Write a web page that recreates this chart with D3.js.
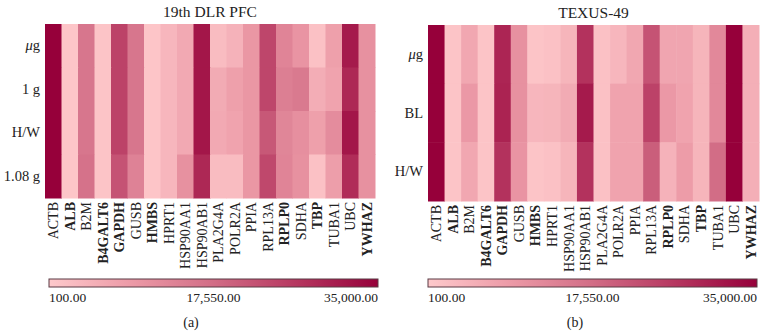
<!DOCTYPE html>
<html>
<head>
<meta charset="utf-8">
<script src="https://cdn.jsdelivr.net/npm/d3@7"></script>
<style>
  body { margin: 0; background: #fff; }
  svg { display: block; }
  text { font-family: "Liberation Serif", "DejaVu Serif", serif; fill: #222; }
</style>
</head>
<body>
<div id="chart"></div>
<script>
// genes on the x axis (bold ones as in the original figure)
const genes = ["ACTB", "ALB", "B2M", "B4GALT6", "GAPDH", "GUSB", "HMBS", "HPRT1", "HSP90AA1", "HSP90AB1",
  "PLA2G4A", "POLR2A", "PPIA", "RPL13A", "RPLP0", "SDHA", "TBP", "TUBA1", "UBC", "YWHAZ"];
const boldGenes = ["ALB", "B4GALT6", "GAPDH", "HMBS", "RPLP0", "TBP", "YWHAZ"];

// (a) 19th DLR PFC
const dlrRows = ["μg", "1 g", "H/W", "1.08 g"];
const dlrMicro = [35000, 800, 15800, 1100, 24500, 15800, 800, 3600, 6000, 31500, 2500, 4300, 9500, 23800, 13000, 9900, 1500, 7800, 30800, 10600];
const dlr1g    = [35000, 800, 15800, 1100, 24500, 15800, 800, 3600, 6000, 31500, 5700, 7800, 9500, 23800, 14100, 15100, 5300, 7100, 28700, 10600];
const dlrHW    = [35000, 800, 15800, 1100, 24500, 15800, 800, 3600, 6000, 31500, 6000, 7100, 9500, 21000, 12700, 10900, 7800, 11600, 31500, 10600];
const dlr108g  = [35000, 800, 16500, 1100, 21700, 13400, 800, 3600, 10600, 28700, 2500, 2500, 9500, 23500, 13000, 10600, 1500, 8100, 28000, 10600];

// (b) TEXUS-49
const texusRows = ["μg", "BL", "H/W"];
const texusMicro = [35000, 1100, 6400, 1100, 29100, 10600, 1100, 1500, 3900, 27000, 1500, 3600, 6400, 21700, 6700, 6700, 3900, 12300, 35000, 5000];
const texusBL    = [35000, 1100, 9200, 1100, 29400, 10600, 3600, 3900, 5700, 30800, 1500, 7100, 7100, 24500, 9200, 7100, 3900, 12300, 35000, 5000];
const texusHW    = [35000, 1100, 6400, 1100, 27000, 9900, 1100, 1500, 3900, 27000, 1500, 7100, 7100, 20000, 4300, 8500, 3900, 17550, 35000, 5000];

// color bar
const legendTicks = [100, 17550, 35000];

const width = 767, height = 336;

const svg = d3.select("#chart").append("svg")
  .attr("width", width)
  .attr("height", height);

const color = d3.scaleLinear()
  .domain([100, 8825, 17550, 26275, 35000])
  .range(["#fec9cb", "#ec9aa7", "#d26d86", "#b63760", "#96003a"])
  .clamp(true);

function toCells(rows, series) {
  const cells = [];
  rows.forEach((r, i) => {
    series[i].forEach((v, j) => cells.push({row: r, gene: genes[j], value: v}));
  });
  return cells;
}

function drawPanel(opts) {
  const x = d3.scaleBand().domain(genes).range([opts.x0, opts.x1]);
  const y = d3.scaleBand().domain(opts.rows).range([opts.y0, opts.y1]);

  const g = svg.append("g");

  g.selectAll("rect.cell")
    .data(toCells(opts.rows, opts.series))
    .join("rect")
    .attr("class", "cell")
    .attr("x", d => x(d.gene))
    .attr("y", d => y(d.row))
    .attr("width", x.bandwidth() + 0.5)
    .attr("height", y.bandwidth() + 0.5)
    .attr("fill", d => color(d.value));

  // title
  g.append("text")
    .attr("x", (opts.x0 + opts.x1) / 2)
    .attr("y", opts.y0 - 7)
    .attr("text-anchor", "middle")
    .style("font-size", "15.5px")
    .text(opts.title);

  // y axis
  const yAxis = g.append("g")
    .attr("transform", `translate(${opts.x0 - 5},0)`)
    .call(d3.axisLeft(y).tickSize(0).tickPadding(0));
  yAxis.select(".domain").remove();
  yAxis.selectAll("text")
    .style("font-size", "14.5px")
    .style("font-family", "Liberation Serif, serif")
    .attr("fill", "#222")
    .each(function(d) {
      if (d === "μg") {
        const t = d3.select(this).text("");
        t.append("tspan").style("font-style", "italic").text("μ");
        t.append("tspan").text("g");
      }
    });

  // x axis, rotated labels
  const xAxis = g.append("g")
    .attr("transform", `translate(0,${opts.y1})`)
    .call(d3.axisBottom(x).tickSize(0));
  xAxis.select(".domain").remove();
  xAxis.selectAll("text")
    .attr("transform", "rotate(-90)")
    .attr("x", -4)
    .attr("y", 0)
    .attr("dy", "0.35em")
    .style("text-anchor", "end")
    .style("font-size", "14px")
    .style("font-family", "Liberation Serif, serif")
    .style("font-weight", d => boldGenes.includes(d) ? "bold" : "normal")
    .attr("fill", "#222");

  // color bar
  const gradId = "grad" + opts.letter;
  const grad = svg.append("defs").append("linearGradient").attr("id", gradId);
  d3.range(0, 1.0001, 0.05).forEach(t => {
    grad.append("stop")
      .attr("offset", t)
      .attr("stop-color", color(100 + t * 34900));
  });
  const lx = d3.scaleLinear().domain([100, 35000]).range([opts.lx0, opts.lx1]);
  g.append("rect")
    .attr("x", lx(100))
    .attr("y", 279)
    .attr("width", lx(35000) - lx(100))
    .attr("height", 8)
    .attr("fill", `url(#${gradId})`)
    .attr("stroke", "#5b3a44")
    .attr("stroke-width", 1);

  g.selectAll("text.leg")
    .data(legendTicks)
    .join("text")
    .attr("class", "leg")
    .attr("x", d => lx(d))
    .attr("y", 302)
    .attr("text-anchor", (d, i) => i === 0 ? "start" : i === legendTicks.length - 1 ? "end" : "middle")
    .style("font-size", "13.5px")
    .text(d => d3.format(",.2f")(d));

  g.append("text")
    .attr("x", opts.cx)
    .attr("y", 327)
    .attr("text-anchor", "middle")
    .style("font-size", "14px")
    .text(`(${opts.letter})`);
}

drawPanel({
  title: "19th DLR PFC", letter: "a",
  rows: dlrRows, series: [dlrMicro, dlr1g, dlrHW, dlr108g],
  x0: 45, x1: 375, y0: 24, y1: 198,
  lx0: 49, lx1: 378, cx: 191
});

drawPanel({
  title: "TEXUS-49", letter: "b",
  rows: texusRows, series: [texusMicro, texusBL, texusHW],
  x0: 428, x1: 759, y0: 25, y1: 201,
  lx0: 428, lx1: 757, cx: 575
});
</script>
</body>
</html>
